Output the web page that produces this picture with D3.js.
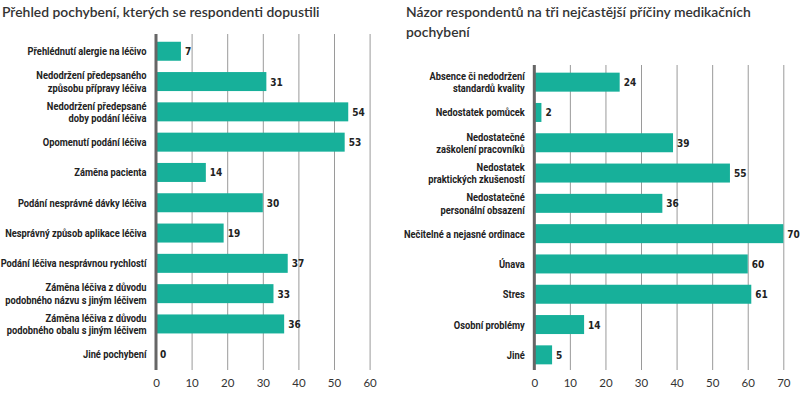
<!DOCTYPE html>
<html><head><meta charset="utf-8">
<script src="https://cdn.jsdelivr.net/npm/d3@7"></script>
<style>
html,body{margin:0;padding:0;background:#fff;}
svg{display:block;}
</style></head>
<body>
<svg id="c" width="800" height="399"></svg>
<script>
const leftTitle = ["Přehled pochybení, kterých se respondenti dopustili"];
const leftCategories = [
  "Přehlédnutí alergie na léčivo",
  "Nedodržení předepsaného\nzpůsobu přípravy léčiva",
  "Nedodržení předepsané\ndoby podání léčiva",
  "Opomenutí podání léčiva",
  "Záměna pacienta",
  "Podání nesprávné dávky léčiva",
  "Nesprávný způsob aplikace léčiva",
  "Podání léčiva nesprávnou rychlostí",
  "Záměna léčiva z důvodu\npodobného názvu s jiným léčivem",
  "Záměna léčiva z důvodu\npodobného obalu s jiným léčivem",
  "Jiné pochybení"
];
const leftValues = [7, 31, 54, 53, 14, 30, 19, 37, 33, 36, 0];
const leftTicks = [0, 10, 20, 30, 40, 50, 60];

const rightTitle = ["Názor respondentů na tři nejčastější příčiny medikačních", "pochybení"];
const rightCategories = [
  "Absence či nedodržení\nstandardů kvality",
  "Nedostatek pomůcek",
  "Nedostatečné\nzaškolení pracovníků",
  "Nedostatek\npraktických zkušeností",
  "Nedostatečné\npersonální obsazení",
  "Nečitelné a nejasné ordinace",
  "Únava",
  "Stres",
  "Osobní problémy",
  "Jiné"
];
const rightValues = [24, 2, 39, 55, 36, 70, 60, 61, 14, 5];
const rightTicks = [0, 10, 20, 30, 40, 50, 60, 70];

const svg = d3.select("#c");
const BAR = "#17b09a";
const labelFont = "Roboto, sans-serif";

// horizontal condensing factor for category labels (reference label width ~146px)
const probe = svg.append("text").attr("font-family", labelFont).attr("font-weight", "bold")
  .attr("font-size", 11).text(leftCategories[7]);
const squeeze = 146 / probe.node().getComputedTextLength();
probe.remove();

function panel(cfg) {
  const g = svg.append("g");
  const x = d3.scaleLinear().domain([0, cfg.ticks[cfg.ticks.length - 1]]).range(cfg.xr);
  const y = d3.scaleBand().domain(cfg.cats).range(cfg.yr).paddingInner(0.373).paddingOuter(0.19);

  // title
  const t = g.append("text").attr("x", cfg.tx).attr("y", 17)
    .attr("font-family", "Lato, sans-serif").attr("font-size", 13.9).attr("font-weight", 600)
    .attr("fill", "#333");
  cfg.title.forEach((line, i) => t.append("tspan").attr("x", cfg.tx).attr("dy", i ? 20 : 0).text(line));

  // grid + ticks
  const axis = d3.axisBottom(x).tickValues(cfg.ticks).tickSize(-(cfg.gridBottom - cfg.gridTop)).tickPadding(0).tickFormat(d3.format("d"));
  const ag = g.append("g").attr("transform", `translate(0,${cfg.gridBottom})`).call(axis);
  ag.select(".domain").remove();
  ag.selectAll(".tick line").attr("stroke", "#9a9a9a").attr("stroke-width", 1);
  ag.selectAll(".tick text").attr("y", 17).attr("dy", 0)
    .attr("font-family", "Lato, sans-serif").attr("font-size", 11.5).attr("fill", "#333");

  // bars
  g.selectAll("rect.bar").data(cfg.cats).enter().append("rect")
    .attr("x", x(0)).attr("y", d => y(d))
    .attr("width", (d, i) => x(cfg.vals[i]) - x(0))
    .attr("height", y.bandwidth()).attr("fill", BAR);

  // axis line
  g.append("line").attr("x1", x(0)).attr("x2", x(0)).attr("y1", cfg.gridTop).attr("y2", cfg.gridBottom)
    .attr("stroke", "#666").attr("stroke-width", 3);

  // value labels
  g.selectAll("text.val").data(cfg.cats).enter().append("text")
    .attr("x", (d, i) => x(cfg.vals[i]) + 4)
    .attr("y", d => y(d) + y.bandwidth() / 2 + 4)
    .attr("font-family", "'DejaVu Sans Condensed', sans-serif").attr("font-weight", "bold")
    .attr("font-size", 10).attr("fill", "#222")
    .text((d, i) => cfg.vals[i]);

  // category labels
  cfg.cats.forEach(c => {
    const lines = c.split("\n");
    const cy = y(c) + y.bandwidth() / 2;
    const lg = g.append("g").attr("transform", `translate(${x(0) - 9.5},${cy}) scale(${squeeze},1)`);
    lines.forEach((l, i) => {
      lg.append("text").attr("text-anchor", "end")
        .attr("font-family", labelFont).attr("font-weight", "bold")
        .attr("font-size", 11).attr("fill", "#222")
        .attr("x", 0)
        .attr("y", 4 + (i - (lines.length - 1) / 2) * 12.4).text(l);
    });
  });
}

panel({cats: leftCategories, vals: leftValues, ticks: leftTicks, xr: [156, 369.6], yr: [36, 369.5],
       gridTop: 34, gridBottom: 370, title: leftTitle, tx: 2});
panel({cats: rightCategories, vals: rightValues, ticks: rightTicks, xr: [534.3, 783.3], yr: [66.9, 370.1],
       gridTop: 65, gridBottom: 370, title: rightTitle, tx: 406});
</script>
</body></html>
